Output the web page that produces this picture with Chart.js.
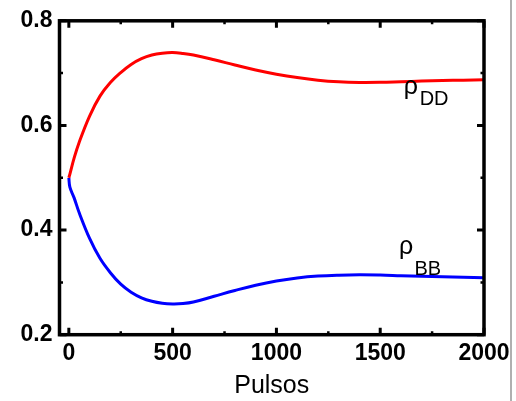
<!DOCTYPE html>
<html>
<head>
<meta charset="utf-8">
<script src="https://cdn.jsdelivr.net/npm/chart.js@4.4.0/dist/chart.umd.min.js"></script>
<style>
  html, body { margin: 0; padding: 0; background: #fff; }
  #wrap { width: 516px; height: 401px; }
</style>
</head>
<body>
<div id="wrap"><canvas id="chart-rho" width="516" height="401"></canvas></div>
<script>
// pulse number (x axis)
const pulses = [0, 5, 25, 50, 100, 150, 200, 250, 300, 350, 400, 450, 500, 550, 600,
  700, 800, 900, 1000, 1100, 1200, 1300, 1400, 1500, 1600, 1700, 1800, 1900, 2000]
// rho_DD (red)
const rho_dd = [0.500, 0.507, 0.537, 0.568, 0.618, 0.656, 0.682, 0.701, 0.7165, 0.7275, 0.7345, 0.7380, 0.7392, 0.7375, 0.7345,
  0.7255, 0.7155, 0.7060, 0.6980, 0.6915, 0.6865, 0.6835, 0.6823, 0.6825, 0.6836, 0.6848, 0.6858, 0.6866, 0.6872]
// rho_BB (blue)
const rho_bb = [0.500, 0.482, 0.462, 0.433, 0.384, 0.346, 0.3185, 0.2965, 0.2812, 0.2705, 0.2638, 0.2600, 0.2588, 0.2595, 0.2625,
  0.2735, 0.2845, 0.2945, 0.3025, 0.3083, 0.3120, 0.3138, 0.3145, 0.3140, 0.3128, 0.3117, 0.3107, 0.3098, 0.3090]

const x_ticks = [0, 500, 1000, 1500, 2000]
const y_ticks = [0.2, 0.4, 0.6, 0.8]
const x_minor = [250, 750, 1250, 1750]
const y_minor = [0.3, 0.5, 0.7]

const canvas = document.getElementById('chart-rho')
const font_family = "'Liberation Sans', Arial, sans-serif"

// frame, inward ticks, curve labels
const frame_plugin = {
  id: 'frame',
  afterDraw(chart) {
    const ctx = chart.ctx
    const area = chart.chartArea
    const xs = chart.scales.x
    const ys = chart.scales.y
    ctx.save()
    ctx.strokeStyle = '#000'
    ctx.lineCap = 'butt'

    ctx.lineWidth = 3
    x_ticks.forEach(v => {
      const px = xs.getPixelForValue(v)
      ctx.beginPath()
      ctx.moveTo(px, area.bottom); ctx.lineTo(px, area.bottom - 7)
      ctx.moveTo(px, area.top); ctx.lineTo(px, area.top + 7)
      ctx.stroke()
    })
    y_ticks.forEach(v => {
      const py = ys.getPixelForValue(v)
      ctx.beginPath()
      ctx.moveTo(area.left, py); ctx.lineTo(area.left + 7, py)
      ctx.moveTo(area.right, py); ctx.lineTo(area.right - 7, py)
      ctx.stroke()
    })
    ctx.lineWidth = 2.5
    x_minor.forEach(v => {
      const px = xs.getPixelForValue(v)
      ctx.beginPath()
      ctx.moveTo(px, area.bottom); ctx.lineTo(px, area.bottom - 3.5)
      ctx.moveTo(px, area.top); ctx.lineTo(px, area.top + 3.5)
      ctx.stroke()
    })
    y_minor.forEach(v => {
      const py = ys.getPixelForValue(v)
      ctx.beginPath()
      ctx.moveTo(area.left, py); ctx.lineTo(area.left + 3.5, py)
      ctx.moveTo(area.right, py); ctx.lineTo(area.right - 3.5, py)
      ctx.stroke()
    })

    ctx.lineWidth = 3.5
    ctx.strokeRect(area.left, area.top, area.right - area.left, area.bottom - area.top)

    // curve labels
    ctx.fillStyle = '#000'
    ctx.textAlign = 'left'
    ctx.textBaseline = 'alphabetic'
    const label = (txt, sub, xv, yv, xs_v, ys_v) => {
      ctx.font = '25px ' + font_family
      ctx.fillText(txt, xs.getPixelForValue(xv), ys.getPixelForValue(yv))
      ctx.font = '20px ' + font_family
      ctx.fillText(sub, xs.getPixelForValue(xs_v), ys.getPixelForValue(ys_v))
    }
    label('\u03c1', 'DD', 1614, 0.661, 1690, 0.640)
    label('\u03c1', 'BB', 1590, 0.355, 1665, 0.3134)

    // thin grey edge at the right of the picture
    ctx.strokeStyle = '#b0b0b0'
    ctx.lineWidth = 2
    ctx.beginPath()
    ctx.moveTo(chart.width - 5, 0); ctx.lineTo(chart.width - 5, chart.height)
    ctx.stroke()
    ctx.restore()
  }
}

let chart = new Chart(canvas, {
  type: 'line',
  data: {
    labels: pulses,
    datasets: [
      {
        label: 'rho_DD',
        data: pulses.map((p, i) => ({x: p, y: rho_dd[i]})),
        borderColor: '#ff0000',
        borderWidth: 3,
        pointRadius: 0,
        tension: 0.4,
        fill: false,
      },
      {
        label: 'rho_BB',
        data: pulses.map((p, i) => ({x: p, y: rho_bb[i]})),
        borderColor: '#0000ff',
        borderWidth: 3,
        pointRadius: 0,
        tension: 0.4,
        fill: false,
      },
    ]
  },
  options: {
    responsive: false,
    animation: false,
    events: [],
    layout: {
      padding: {left: 0, right: 32, top: 18.7, bottom: 0}
    },
    plugins: {
      legend: {display: false},
      tooltip: {enabled: false},
    },
    scales: {
      x: {
        type: 'linear',
        min: -45,
        max: 2000,
        afterBuildTicks: scale => { scale.ticks = x_ticks.map(v => ({value: v})) },
        afterFit: scale => { scale.height = 66.3 },
        grid: {display: false, drawTicks: false},
        border: {display: false},
        ticks: {
          color: '#000',
          padding: 5,
          maxRotation: 0,
          callback: v => String(v),
          font: {family: font_family, size: 23, weight: 'bold'},
        },
        title: {
          display: true,
          text: 'Pulsos',
          color: '#000',
          padding: {top: 0, bottom: 0},
          font: {family: font_family, size: 25},
        }
      },
      y: {
        type: 'linear',
        min: 0.2,
        max: 0.8,
        afterBuildTicks: scale => { scale.ticks = y_ticks.map(v => ({value: v})) },
        afterFit: scale => { scale.width = 59.5 },
        grid: {display: false, drawTicks: false},
        border: {display: false},
        ticks: {
          color: '#000',
          padding: 7,
          callback: v => v.toFixed(1),
          font: {family: font_family, size: 23, weight: 'bold'},
        }
      }
    }
  },
  plugins: [frame_plugin]
})
</script>
</body>
</html>
